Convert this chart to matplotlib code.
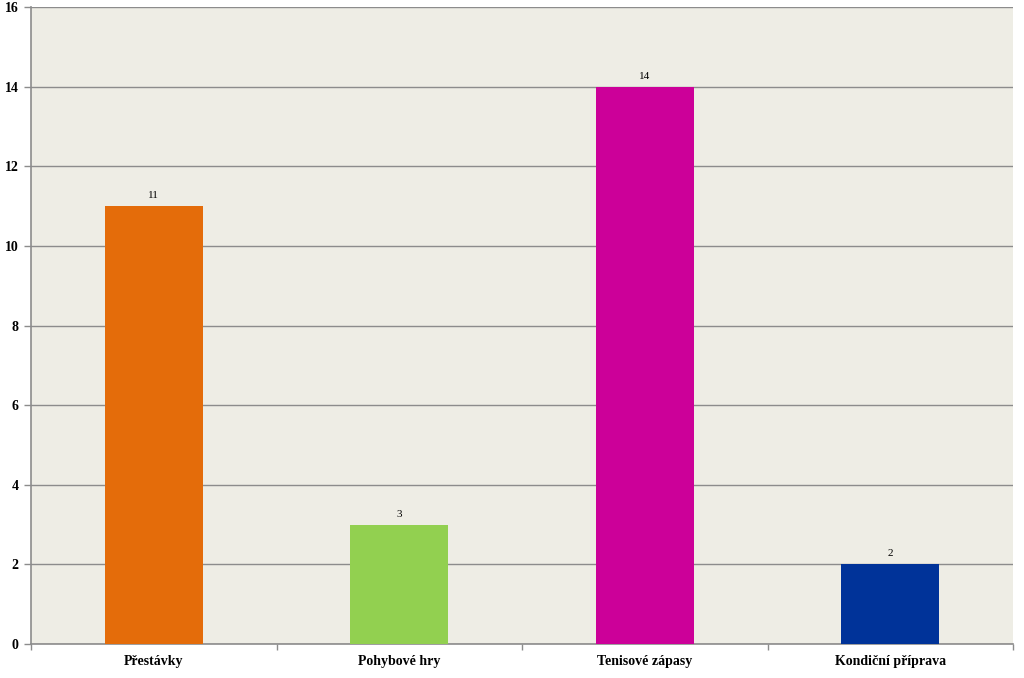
import matplotlib
matplotlib.use("Agg")
import matplotlib.pyplot as plt
import numpy as np

categories = ["Přestávky", "Pohybové hry", "Tenisové zápasy", "Kondiční příprava"]
values = [11, 3, 14, 2]
colors = ["#E46C0A", "#92D050", "#CC0099", "#003399"]
yticks = [0, 2, 4, 6, 8, 10, 12, 14, 16]

plt.rcParams['font.family'] = ['Liberation Serif', 'DejaVu Serif']

fig = plt.figure(figsize=(10.24, 6.78), dpi=100)
ax = fig.add_axes([0.0303, 0.0501, 0.9590, 0.9396])
ax.set_facecolor("#EEEDE5")

x = np.arange(len(categories))
ax.bar(x, values, width=0.4, color=colors, zorder=3)
for xi, v in zip(x, values):
    ax.text(xi, v + 0.15, str(v), ha="center", va="bottom", fontsize=8, zorder=4)

ax.set_xlim(-0.5, len(categories) - 0.5)
ax.set_ylim(0, 16)
ax.set_yticks(yticks)
ax.set_yticklabels([str(t) for t in yticks], fontsize=10, fontweight="bold")
ax.yaxis.grid(True, color="#8C8C8C", linewidth=1.0, zorder=1)
ax.set_axisbelow(True)

ax.set_xticks(x)
ax.set_xticklabels(categories, fontsize=10, fontweight="bold")
ax.tick_params(axis="x", length=0, pad=8)
ax.set_xticks(np.arange(len(categories) + 1) - 0.5, minor=True)
ax.tick_params(axis="x", which="minor", length=4, color="#8C8C8C", width=1)
ax.tick_params(axis="y", length=5, color="#8C8C8C", width=1, pad=4)

for side in ["top", "right"]:
    ax.spines[side].set_visible(False)
ax.spines["left"].set_color("#8C8C8C")
ax.spines["bottom"].set_color("#8C8C8C")
ax.spines["left"].set_linewidth(1.2)
ax.spines["bottom"].set_linewidth(1.2)

fig.savefig("out.png", dpi=100, facecolor="white")
